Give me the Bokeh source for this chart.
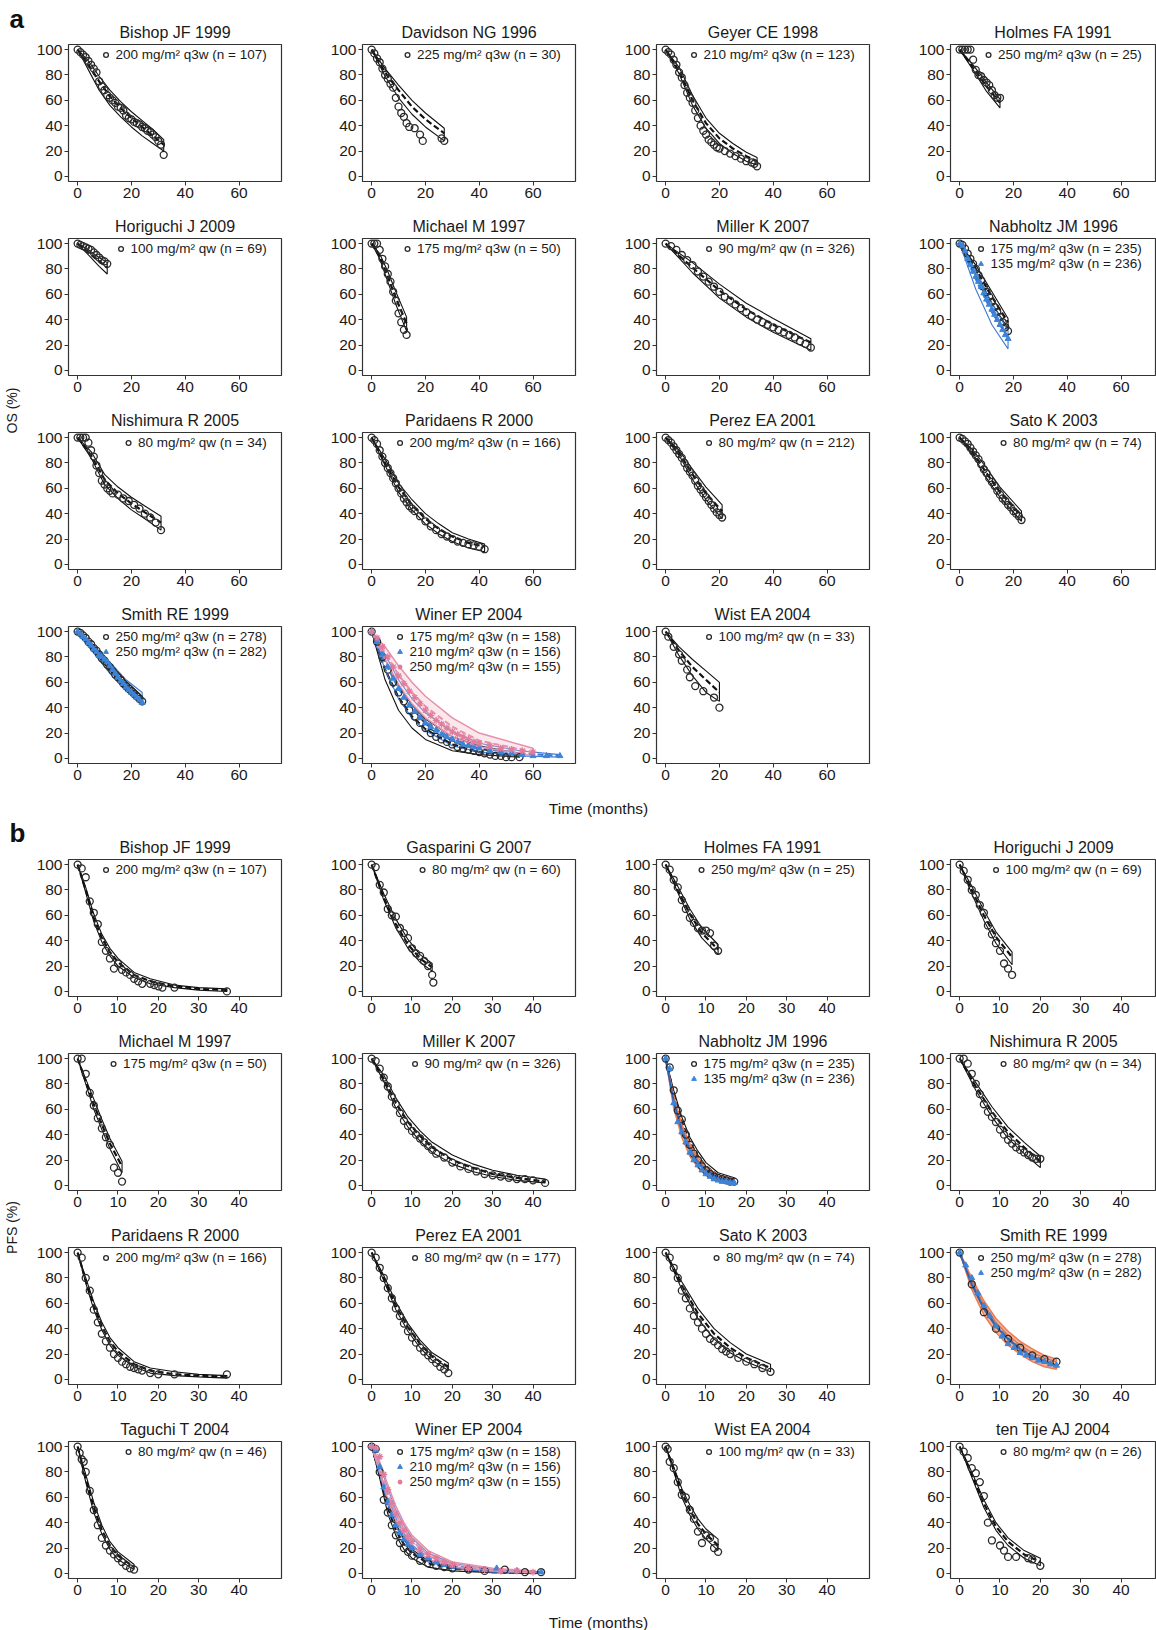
from math import pi
from bokeh.plotting import figure
from bokeh.models import Range1d, FixedTicker, Legend, LegendItem, Spacer
from bokeh.layouts import row, column
from bokeh.core.properties import value
from bokeh.embed import file_html
from bokeh.resources import INLINE

# ------------------------------------------------------------------ data
OS_TICKS = [0, 20, 40, 60]
PFS_TICKS = [0, 10, 20, 30, 40]
Y_TICKS = [0, 20, 40, 60, 80, 100]

# ---- OS (panel a)
os_bishop_t = [0,1,2,3,4,5,6,7,8,9,10,11,12,13,14,15,16,17,18,19,20,21,22,23,24,25,26,27,28,29,30,31,32]
os_bishop_s = [100,98,96,94,91,88,85,82,75,71,68,64,62,60,58,55,54,52,48,46,45,43,42,41,39,38,36,35,33,31,28,25,17]
os_bishop_mt = [0,4,8,12,16,20,24,28,32]
os_bishop_med = [100,88,75,63,54,46,39,32,25]
os_bishop_lo = [100,84,68,56,47,39,32,26,20]
os_bishop_hi = [100,91,79,68,59,51,44,37,29]

os_davidson_t = [0,1,2,3,4,5,6,7,8,9,10,11,12,13,14,16,18,19,26,27]
os_davidson_s = [100,97,93,90,85,80,77,73,70,62,55,50,47,42,39,38,33,28,30,28]
os_davidson_mt = [0,5,10,15,20,27]
os_davidson_med = [100,82,68,55,45,34]
os_davidson_lo = [100,79,62,49,39,28]
os_davidson_hi = [100,85,72,60,50,38]

os_geyer_t = [0,1,2,3,4,5,6,7,8,9,10,11,12,13,14,15,16,17,18,19,20,22,24,26,28,30,32,33,34]
os_geyer_s = [100,98,96,92,88,82,78,72,66,62,58,52,46,40,36,33,29,27,25,23,22,20,18,16,14,12,11,10,8]
os_geyer_mt = [0,5,10,15,20,25,30,34]
os_geyer_med = [100,83,60,42,30,22,16,12]
os_geyer_lo = [100,81,56,38,26,18,12,9]
os_geyer_hi = [100,86,64,46,34,26,19,15]

os_holmes_t = [0,1,2,3,4,5,6,7,8,9,10,11,12,13,14,15]
os_holmes_s = [100,100,100,100,100,92,84,80,79,76,74,72,68,64,62,62]
os_holmes_mt = [0,5,10,15]
os_holmes_med = [100,86,71,58]
os_holmes_lo = [100,84,67,54]
os_holmes_hi = [100,88,74,61]

os_horiguchi_t = [0,1,2,3,4,5,6,7,8,9,10,11]
os_horiguchi_s = [100,99,98,97,96,95,93,91,89,87,86,84]
os_horiguchi_mt = [0,4,8,11]
os_horiguchi_med = [100,93,86,81]
os_horiguchi_lo = [100,91,82,76]
os_horiguchi_hi = [100,95,89,85]

os_michael_t = [0,1,2,3,4,5,6,7,8,9,10,11,12,13]
os_michael_s = [100,100,100,95,88,82,76,70,62,55,45,38,32,28]
os_michael_mt = [0,3,6,9,13]
os_michael_med = [100,90,74,57,37]
os_michael_lo = [100,88,70,52,31]
os_michael_hi = [100,92,78,62,42]

os_miller_t = [0,2,4,6,8,10,12,14,16,18,20,22,24,26,28,30,32,34,36,38,40,42,44,46,48,50,52,54]
os_miller_s = [100,98,95,91,87,83,78,74,70,66,62,58,55,52,49,46,43,40,38,36,34,32,30,28,26,23,21,18]
os_miller_mt = [0,10,20,30,40,54]
os_miller_med = [100,81,63,48,36,22]
os_miller_lo = [100,77,57,42,30,16]
os_miller_hi = [100,85,68,53,41,25]

os_nabholtz1_t = [0,1,2,3,4,5,6,7,8,9,10,11,12,13,14,15,16,17,18]
os_nabholtz1_s = [100,99,96,92,88,84,80,75,71,66,62,58,54,50,46,42,38,34,31]
os_nabholtz1_mt = [0,6,12,18]
os_nabholtz1_med = [100,80,58,38]
os_nabholtz1_lo = [100,76,53,33]
os_nabholtz1_hi = [100,83,62,41]
os_nabholtz2_t = [0,1,2,3,4,5,6,7,8,9,10,11,12,13,14,15,16,17,18]
os_nabholtz2_s = [100,98,94,88,83,78,74,70,66,61,56,52,48,44,40,36,32,28,25]
os_nabholtz2_mt = [0,6,12,18]
os_nabholtz2_med = [100,72,46,26]
os_nabholtz2_lo = [100,64,36,17]
os_nabholtz2_hi = [100,79,53,31]

os_nishimura_t = [0,1,2,3,4,5,6,7,8,9,10,11,12,13,15,17,19,21,23,25,27,29,31]
os_nishimura_s = [100,100,100,100,96,90,85,78,72,66,63,60,58,56,55,52,50,47,44,40,37,33,27]
os_nishimura_mt = [0,5,10,15,20,25,31]
os_nishimura_med = [100,86,67,56,48,41,33]
os_nishimura_lo = [100,84,63,52,43,36,27]
os_nishimura_hi = [100,89,71,61,53,46,38]

os_paridaens_t = [0,1,2,3,4,5,6,7,8,9,10,11,12,13,14,15,16,18,20,22,24,26,28,30,32,34,36,38,40,42]
os_paridaens_s = [100,98,95,90,85,80,76,72,68,64,60,56,52,49,46,44,42,38,34,30,27,24,22,20,18,17,16,15,14,12]
os_paridaens_mt = [0,5,10,15,20,25,30,36,42]
os_paridaens_med = [100,80,61,47,36,28,22,17,14]
os_paridaens_lo = [100,78,57,43,32,24,18,13,10]
os_paridaens_hi = [100,83,64,51,40,32,25,20,16]

os_perez_t = [0,1,2,3,4,5,6,7,8,9,10,11,12,13,14,15,16,17,18,19,20,21]
os_perez_s = [100,98,96,93,90,87,84,80,76,73,70,66,62,59,56,53,50,47,44,41,39,37]
os_perez_mt = [0,5,10,15,21]
os_perez_med = [100,88,71,56,42]
os_perez_lo = [100,86,67,51,36]
os_perez_hi = [100,90,75,61,47]

os_sato_t = [0,1,2,3,4,5,6,7,8,9,10,11,12,13,14,15,16,17,18,19,20,21,22,23]
os_sato_s = [100,99,97,95,92,89,86,83,79,75,72,68,65,62,58,55,52,50,47,45,42,40,38,35]
os_sato_mt = [0,5,10,15,23]
os_sato_med = [100,88,72,57,38]
os_sato_lo = [100,86,68,53,34]
os_sato_hi = [100,90,76,61,42]

os_smith1_t = [0,1,2,3,4,5,6,7,8,9,10,11,12,13,14,15,16,17,18,19,20,21,22,23,24]
os_smith1_s = [100,99,97,95,92,90,87,85,82,79,77,74,72,69,66,64,62,59,57,55,53,51,49,47,45]
os_smith1_mt = [0,6,12,18,24]
os_smith1_med = [100,87,72,58,46]
os_smith1_lo = [100,85,69,55,43]
os_smith1_hi = [100,89,75,61,49]
os_smith2_t = [0,1,2,3,4,5,6,7,8,9,10,11,12,13,14,15,16,17,18,19,20,21,22,23,24]
os_smith2_s = [100,98,96,94,91,89,86,84,81,80,78,76,73,70,67,64,61,59,56,54,52,50,48,46,44]
os_smith2_mt = [0,6,12,18,24]
os_smith2_med = [100,86,71,57,45]
os_smith2_lo = [100,83,67,53,42]
os_smith2_hi = [100,89,76,62,52]

os_winer1_t = [0,2,4,6,8,10,12,14,16,18,20,22,24,26,28,30,32,34,36,38,40,42,44,46,48,50,52,55]
os_winer1_s = [100,92,80,70,60,52,45,38,33,28,24,20,17,15,13,11,9,8,7,6,5,4,3,2,2,1,1,1]
os_winer1_mt = [0,5,10,15,20,30,40,55]
os_winer1_med = [100,70,48,33,23,11,5,2]
os_winer1_lo = [100,62,38,24,15,6,3,1]
os_winer1_hi = [100,78,58,42,31,17,10,4]
os_winer2_t = [0,2,4,6,8,10,12,14,16,18,20,22,24,26,28,30,32,34,36,38,40,44,48,52,56,60,65,70]
os_winer2_s = [100,92,82,72,63,55,48,42,37,32,28,25,22,19,17,15,13,11,10,9,8,6,5,4,3,2,2,2]
os_winer2_mt = [0,5,10,15,20,30,40,55,70]
os_winer2_med = [100,76,55,40,29,15,8,4,2]
os_winer2_lo = [100,70,47,32,22,10,5,2,1]
os_winer2_hi = [100,82,62,47,36,21,12,6,3]
os_winer3_t = [0,2,4,6,8,10,12,14,16,18,20,22,24,26,28,30,32,34,36,38,40,44,48,52,56,60]
os_winer3_s = [100,95,88,80,72,65,59,53,48,43,38,34,30,27,24,21,19,17,15,13,12,10,8,7,6,5]
os_winer3_mt = [0,5,10,15,20,30,40,60]
os_winer3_med = [100,83,66,52,41,25,14,5]
os_winer3_lo = [100,78,58,43,32,17,9,2]
os_winer3_hi = [100,88,73,60,49,32,20,8]

os_wist_t = [0,1,3,5,6,8,9,11,14,18,20]
os_wist_s = [100,96,88,82,77,70,64,57,53,48,40]
os_wist_mt = [0,5,10,15,20]
os_wist_med = [100,85,72,62,52]
os_wist_lo = [100,81,65,52,45]
os_wist_hi = [100,88,78,69,60]

# ---- PFS (panel b)
pfs_bishop_t = [0,1,2,3,4,5,6,7,8,9,10,11,12,13,14,15,16,18,19,20,21,24,37]
pfs_bishop_s = [100,97,90,71,62,53,39,32,26,18,22,17,15,13,10,8,6,6,5,4,3,3,0]
pfs_bishop_mt = [0,2,4,6,8,10,14,18,24,30,37]
pfs_bishop_med = [100,80,58,42,31,23,13,8,4,2,1]
pfs_bishop_lo = [100,78,55,39,28,20,11,6,3,1,0]
pfs_bishop_hi = [100,82,61,45,34,26,15,10,5,3,2]

pfs_gasparini_t = [0,1,2,3,4,5,6,7,8,9,10,11,12,13,14,15,15.3]
pfs_gasparini_s = [100,98,84,78,65,60,59,50,46,42,34,30,28,24,20,13,7]
pfs_gasparini_mt = [0,3,6,9,12,15]
pfs_gasparini_med = [100,74,53,37,26,19]
pfs_gasparini_lo = [100,72,50,34,23,16]
pfs_gasparini_hi = [100,77,57,41,29,22]

pfs_holmes_t = [0,1,2,3,4,5,6,7,8,9,10,11,12,13]
pfs_holmes_s = [100,96,88,82,72,65,58,54,50,48,48,46,36,32]
pfs_holmes_mt = [0,3,6,9,13]
pfs_holmes_med = [100,80,61,46,33]
pfs_holmes_lo = [100,78,57,42,29]
pfs_holmes_hi = [100,83,65,50,37]

pfs_horiguchi_t = [0,1,2,3,4,5,6,7,8,9,10,11,12,13]
pfs_horiguchi_s = [100,95,88,80,76,68,62,52,45,38,32,22,18,13]
pfs_horiguchi_mt = [0,3,6,9,13]
pfs_horiguchi_med = [100,80,60,43,27]
pfs_horiguchi_lo = [100,77,56,38,21]
pfs_horiguchi_hi = [100,83,64,47,31]

pfs_michael_t = [0,1,2,3,4,5,6,7,8,9,10,11]
pfs_michael_s = [100,100,88,73,63,53,45,38,32,14,10,3]
pfs_michael_mt = [0,2,4,6,8,11]
pfs_michael_med = [100,82,64,48,33,15]
pfs_michael_lo = [100,80,60,44,29,10]
pfs_michael_hi = [100,84,68,52,37,19]

pfs_miller_t = [0,1,2,3,4,5,6,7,8,9,10,11,12,13,14,15,16,18,20,22,24,26,28,30,32,34,36,38,40,43]
pfs_miller_s = [100,98,92,85,78,70,64,57,51,47,43,40,37,34,31,28,25,22,18,15,13,11,9,8,7,6,5,5,4,2]
pfs_miller_mt = [0,3,6,9,12,15,20,25,30,36,43]
pfs_miller_med = [100,84,65,50,39,30,20,14,9,6,3]
pfs_miller_lo = [100,82,61,46,35,26,17,11,7,4,2]
pfs_miller_hi = [100,87,69,54,43,34,24,17,12,8,5]

pfs_nabholtz1_t = [0,1,2,3,4,5,6,7,8,9,10,11,12,13,14,15,16,17]
pfs_nabholtz1_s = [100,93,75,59,52,40,32,25,20,15,12,9,7,6,5,4,3,3]
pfs_nabholtz1_mt = [0,2,4,6,8,10,13,17]
pfs_nabholtz1_med = [100,72,50,34,23,15,8,4]
pfs_nabholtz1_lo = [100,69,46,31,20,13,6,2]
pfs_nabholtz1_hi = [100,75,54,38,27,18,10,6]
pfs_nabholtz2_t = [0,1,2,3,4,5,6,7,8,9,10,11,12,13,14,15,16,17]
pfs_nabholtz2_s = [100,92,65,50,42,34,26,20,16,12,9,7,5,4,3,3,2,2]
pfs_nabholtz2_mt = [0,2,4,6,8,10,13,17]
pfs_nabholtz2_med = [100,66,43,28,18,12,6,3]
pfs_nabholtz2_lo = [100,61,38,23,14,8,4,1]
pfs_nabholtz2_hi = [100,71,48,33,22,15,8,5]

pfs_nishimura_t = [0,1,2,3,4,5,6,7,8,9,10,11,12,13,14,15,16,17,18,19,20]
pfs_nishimura_s = [100,100,96,88,80,72,64,58,54,50,44,40,36,33,30,28,26,24,22,21,21]
pfs_nishimura_mt = [0,4,8,12,16,20]
pfs_nishimura_med = [100,78,58,42,30,19]
pfs_nishimura_lo = [100,75,54,37,25,14]
pfs_nishimura_hi = [100,81,62,46,34,23]

pfs_paridaens_t = [0,1,2,3,4,5,6,7,8,9,10,11,12,13,14,15,16,18,20,24,37]
pfs_paridaens_s = [100,96,80,70,55,45,36,30,25,20,17,14,12,10,9,8,7,5,4,4,4]
pfs_paridaens_mt = [0,2,4,6,8,10,14,18,24,30,37]
pfs_paridaens_med = [100,78,58,42,30,22,12,7,4,3,2]
pfs_paridaens_lo = [100,76,55,39,27,19,10,5,3,2,1]
pfs_paridaens_hi = [100,80,61,45,33,25,14,9,6,4,3]

pfs_perez_t = [0,1,2,3,4,5,6,7,8,9,10,11,12,13,14,15,16,17,18,19]
pfs_perez_s = [100,96,88,80,72,64,56,50,44,38,33,29,25,22,19,16,13,10,8,5]
pfs_perez_mt = [0,3,6,9,12,15,19]
pfs_perez_med = [100,80,58,41,28,18,10]
pfs_perez_lo = [100,78,55,38,25,15,7]
pfs_perez_hi = [100,82,61,44,31,21,13]

pfs_sato_t = [0,1,2,3,4,5,6,7,8,9,10,11,12,13,14,15,16,18,20,22,24,26]
pfs_sato_s = [100,96,88,80,70,64,56,50,45,40,36,32,30,27,24,22,20,17,14,12,9,6]
pfs_sato_mt = [0,4,8,12,16,20,26]
pfs_sato_med = [100,74,52,36,25,17,9]
pfs_sato_lo = [100,71,48,32,21,14,6]
pfs_sato_hi = [100,77,56,40,29,20,12]

pfs_smith1_t = [0,3,6,9,12,15,18,21,24]
pfs_smith1_s = [100,75,53,40,32,25,19,16,14]
pfs_smith1_mt = [0,3,6,9,12,15,18,21,24]
pfs_smith1_med = [100,76,57,43,33,25,19,15,12]
pfs_smith1_lo = [100,74,55,41,31,23,17,13,10]
pfs_smith1_hi = [100,78,59,45,35,27,21,17,14]
pfs_smith2_t = [0,1.5,3,4.5,6,7.5,9,10.5,12,13.5,15,16.5,18,19.5,21,22.5,24]
pfs_smith2_s = [100,90,80,68,58,50,42,34,28,25,21,19,17,15,14,12,11]
pfs_smith2_mt = [0,3,6,9,12,15,18,21,24]
pfs_smith2_med = [100,75,56,42,32,24,18,14,11]
pfs_smith2_lo = [100,71,51,37,27,20,14,10,8]
pfs_smith2_hi = [100,80,62,48,38,30,24,19,16]

pfs_taguchi_t = [0,0.5,1,1.5,2,3,4,5,6,7,8,9,10,11,12,13,14]
pfs_taguchi_s = [100,95,90,88,80,65,50,38,28,22,18,15,12,9,6,4,3]
pfs_taguchi_mt = [0,2,4,6,8,10,14]
pfs_taguchi_med = [100,75,52,34,22,14,5]
pfs_taguchi_lo = [100,72,48,31,19,11,3]
pfs_taguchi_hi = [100,78,56,38,25,17,7]

pfs_winer1_t = [0,1,2,3,4,5,6,7,8,9,10,12,14,16,18,20,24,28,33,38,42]
pfs_winer1_s = [100,98,80,58,48,38,30,24,20,17,14,10,8,6,5,4,3,2,3,1,1]
pfs_winer1_mt = [0,2,4,6,8,10,14,20,30,42]
pfs_winer1_med = [100,78,52,34,23,16,8,4,1,0.5]
pfs_winer1_lo = [100,75,47,30,19,12,5,2,0.5,0]
pfs_winer1_hi = [100,81,57,39,27,19,10,5,2,1]
pfs_winer2_t = [0,1,2,3,4,5,6,7,8,9,10,12,14,16,18,20,24,28,31,36,42]
pfs_winer2_s = [100,97,84,68,56,46,38,32,27,23,20,15,12,9,7,6,4,3,4,2,1]
pfs_winer2_mt = [0,2,4,6,8,10,14,20,30,42]
pfs_winer2_med = [100,82,60,43,31,22,12,6,2,1]
pfs_winer2_lo = [100,78,54,37,26,18,9,4,1,0.5]
pfs_winer2_hi = [100,86,67,50,38,28,16,8,3,1]
pfs_winer3_t = [0,1,2,3,4,5,6,7,8,9,10,12,14,16,18,20,24,28,32,36,40]
pfs_winer3_s = [100,99,92,78,66,55,47,40,34,29,25,19,15,12,9,7,4,3,2,2,1]
pfs_winer3_mt = [0,2,4,6,8,10,14,20,30,40]
pfs_winer3_med = [100,84,64,47,35,26,14,7,3,1]
pfs_winer3_lo = [100,80,58,42,30,21,11,5,2,0.5]
pfs_winer3_hi = [100,88,70,53,40,30,18,9,4,2]

pfs_wist_t = [0,0.5,1,2,3,4,5,6,7,8,9,10,11,12,13]
pfs_wist_s = [100,98,88,83,72,62,60,50,43,33,24,30,28,20,17]
pfs_wist_mt = [0,2,4,6,8,10,13]
pfs_wist_med = [100,82,64,50,39,31,22]
pfs_wist_lo = [100,80,60,46,35,27,18]
pfs_wist_hi = [100,84,67,54,43,35,27]

pfs_tentije_t = [0,1,2,3,4,5,6,7,8,10,11,12,14,17,18,20]
pfs_tentije_s = [100,96,91,83,79,72,61,40,26,22,18,13,13,12,11,6]
pfs_tentije_mt = [0,3,6,9,12,16,20]
pfs_tentije_med = [100,78,55,37,25,15,9]
pfs_tentije_lo = [100,76,52,34,22,12,6]
pfs_tentije_hi = [100,80,58,40,28,18,12]

# ------------------------------------------------------------------ styles / layout
FONT = "Liberation Sans"
W_COL, W_LAST, H_ROW = 294, 244, 194
B_LEFT, B_TOP, B_BOT = 38, 33, 24
FW, FW_LAST = 213, 206
OS_X = (-3.4, 75.8)
PFS_X = (-2.27, 50.53)
SIDE_W = 30

ARM_STYLE = {
    1: dict(marker="circle", size=7, fill=None, mcol="#2a2a2a", lcol="#111111", band=None, alpha=0),
    2: dict(marker="triangle", size=6, fill="#3d84d8", mcol="#3d84d8", lcol="#3b7bd4", band=None, alpha=0),
    3: dict(marker="asterisk", size=7, fill=None, mcol="#e07b9b", lcol="#e690ab", band="#f0b3c5", alpha=0.3),
    4: dict(marker="triangle", size=6, fill="#3d84d8", mcol="#3d84d8", lcol="#2e64b8", band="#f49a76", alpha=0.75),
}


def arm(t, s, mt, med, lo, hi, label, style=1):
    return dict(t=t, s=s, mt=mt, med=med, lo=lo, hi=hi, label=label, style=style)


def make_panel(title, arms, xr, ticks, col):
    last = col == 3
    w = W_LAST if last else W_COL
    fw = FW_LAST if last else FW
    x0, x1 = xr
    x1 = x0 + (x1 - x0) * fw / FW
    p = figure(width=w, height=H_ROW, x_range=Range1d(x0, x1), y_range=Range1d(-4, 104),
               toolbar_location=None, output_backend="svg", title=title,
               min_border_left=B_LEFT, min_border_right=w - B_LEFT - fw,
               min_border_top=B_TOP, min_border_bottom=B_BOT)
    p.title.text_font = FONT
    p.title.text_font_size = "16px"
    p.title.text_font_style = "normal"
    p.title.text_color = "#1a1a1a"
    p.title.align = "center"
    p.title.standoff = 7
    p.xgrid.visible = False
    p.ygrid.visible = False
    p.outline_line_color = "#333333"
    p.outline_line_width = 1.2
    p.xaxis.ticker = FixedTicker(ticks=ticks)
    p.yaxis.ticker = FixedTicker(ticks=Y_TICKS)
    for ax in (p.xaxis, p.yaxis):
        ax.axis_line_color = None
        ax.major_tick_line_color = "#333333"
        ax.major_tick_out = 4
        ax.major_tick_in = 0
        ax.minor_tick_line_color = None
        ax.major_label_text_font = FONT
        ax.major_label_text_font_size = "15.5px"
        ax.major_label_text_color = "#1a1a1a"
        ax.major_label_standoff = 2

    items = []
    for a in arms:
        st = ARM_STYLE[a["style"]]
        px = list(a["mt"]) + list(a["mt"])[::-1]
        py = list(a["lo"]) + list(a["hi"])[::-1]
        if st["band"]:
            p.patch(px, py, fill_color=st["band"], fill_alpha=st["alpha"],
                    line_color=st["lcol"] if a["style"] == 3 else "#ee7b52", line_width=1.5)
            if a["style"] == 4:
                p.line(a["mt"], a["med"], line_color=st["lcol"], line_width=2)
            else:
                p.line(a["mt"], a["med"], line_color=st["lcol"], line_width=2, line_dash="6 3")
        else:
            p.patch(px, py, fill_alpha=0, line_color=st["lcol"], line_width=1.1)
            p.line(a["mt"], a["med"], line_color=st["lcol"], line_width=2.2, line_dash="6 3")
    for a in arms:
        st = ARM_STYLE[a["style"]]
        if st["fill"] is None:
            r = p.scatter(a["t"], a["s"], marker=st["marker"], size=st["size"],
                          fill_color=None, line_color=st["mcol"], line_width=1.3)
        else:
            r = p.scatter(a["t"], a["s"], marker=st["marker"], size=st["size"],
                          fill_color=st["fill"], line_color=st["mcol"], line_width=1)
        items.append(LegendItem(label=a["label"] + "   ", renderers=[r]))

    leg = Legend(items=items, location="top_right", margin=3, padding=0, spacing=0,
                 glyph_width=12, glyph_height=15, label_height=15, label_standoff=4,
                 label_text_font=FONT, label_text_font_size="13.5px",
                 label_text_color="#1a1a1a", border_line_alpha=0,
                 background_fill_alpha=0)
    p.add_layout(leg)
    return p


def L(dose, sched, n):
    return f"{dose} mg/m\u00b2 {sched} (n = {n})"


os_panels = [
    ("Bishop JF 1999", [arm(os_bishop_t, os_bishop_s, os_bishop_mt, os_bishop_med, os_bishop_lo, os_bishop_hi, L(200, "q3w", 107))]),
    ("Davidson NG 1996", [arm(os_davidson_t, os_davidson_s, os_davidson_mt, os_davidson_med, os_davidson_lo, os_davidson_hi, L(225, "q3w", 30))]),
    ("Geyer CE 1998", [arm(os_geyer_t, os_geyer_s, os_geyer_mt, os_geyer_med, os_geyer_lo, os_geyer_hi, L(210, "q3w", 123))]),
    ("Holmes FA 1991", [arm(os_holmes_t, os_holmes_s, os_holmes_mt, os_holmes_med, os_holmes_lo, os_holmes_hi, L(250, "q3w", 25))]),
    ("Horiguchi J 2009", [arm(os_horiguchi_t, os_horiguchi_s, os_horiguchi_mt, os_horiguchi_med, os_horiguchi_lo, os_horiguchi_hi, L(100, "qw", 69))]),
    ("Michael M 1997", [arm(os_michael_t, os_michael_s, os_michael_mt, os_michael_med, os_michael_lo, os_michael_hi, L(175, "q3w", 50))]),
    ("Miller K 2007", [arm(os_miller_t, os_miller_s, os_miller_mt, os_miller_med, os_miller_lo, os_miller_hi, L(90, "qw", 326))]),
    ("Nabholtz JM 1996", [arm(os_nabholtz1_t, os_nabholtz1_s, os_nabholtz1_mt, os_nabholtz1_med, os_nabholtz1_lo, os_nabholtz1_hi, L(175, "q3w", 235)),
                          arm(os_nabholtz2_t, os_nabholtz2_s, os_nabholtz2_mt, os_nabholtz2_med, os_nabholtz2_lo, os_nabholtz2_hi, L(135, "q3w", 236), 2)]),
    ("Nishimura R 2005", [arm(os_nishimura_t, os_nishimura_s, os_nishimura_mt, os_nishimura_med, os_nishimura_lo, os_nishimura_hi, L(80, "qw", 34))]),
    ("Paridaens R 2000", [arm(os_paridaens_t, os_paridaens_s, os_paridaens_mt, os_paridaens_med, os_paridaens_lo, os_paridaens_hi, L(200, "q3w", 166))]),
    ("Perez EA 2001", [arm(os_perez_t, os_perez_s, os_perez_mt, os_perez_med, os_perez_lo, os_perez_hi, L(80, "qw", 212))]),
    ("Sato K 2003", [arm(os_sato_t, os_sato_s, os_sato_mt, os_sato_med, os_sato_lo, os_sato_hi, L(80, "qw", 74))]),
    ("Smith RE 1999", [arm(os_smith1_t, os_smith1_s, os_smith1_mt, os_smith1_med, os_smith1_lo, os_smith1_hi, L(250, "q3w", 278)),
                       arm(os_smith2_t, os_smith2_s, os_smith2_mt, os_smith2_med, os_smith2_lo, os_smith2_hi, L(250, "q3w", 282), 2)]),
    ("Winer EP 2004", [arm(os_winer1_t, os_winer1_s, os_winer1_mt, os_winer1_med, os_winer1_lo, os_winer1_hi, L(175, "q3w", 158)),
                       arm(os_winer2_t, os_winer2_s, os_winer2_mt, os_winer2_med, os_winer2_lo, os_winer2_hi, L(210, "q3w", 156), 2),
                       arm(os_winer3_t, os_winer3_s, os_winer3_mt, os_winer3_med, os_winer3_lo, os_winer3_hi, L(250, "q3w", 155), 3)]),
    ("Wist EA 2004", [arm(os_wist_t, os_wist_s, os_wist_mt, os_wist_med, os_wist_lo, os_wist_hi, L(100, "qw", 33))]),
]

pfs_panels = [
    ("Bishop JF 1999", [arm(pfs_bishop_t, pfs_bishop_s, pfs_bishop_mt, pfs_bishop_med, pfs_bishop_lo, pfs_bishop_hi, L(200, "q3w", 107))]),
    ("Gasparini G 2007", [arm(pfs_gasparini_t, pfs_gasparini_s, pfs_gasparini_mt, pfs_gasparini_med, pfs_gasparini_lo, pfs_gasparini_hi, L(80, "qw", 60))]),
    ("Holmes FA 1991", [arm(pfs_holmes_t, pfs_holmes_s, pfs_holmes_mt, pfs_holmes_med, pfs_holmes_lo, pfs_holmes_hi, L(250, "q3w", 25))]),
    ("Horiguchi J 2009", [arm(pfs_horiguchi_t, pfs_horiguchi_s, pfs_horiguchi_mt, pfs_horiguchi_med, pfs_horiguchi_lo, pfs_horiguchi_hi, L(100, "qw", 69))]),
    ("Michael M 1997", [arm(pfs_michael_t, pfs_michael_s, pfs_michael_mt, pfs_michael_med, pfs_michael_lo, pfs_michael_hi, L(175, "q3w", 50))]),
    ("Miller K 2007", [arm(pfs_miller_t, pfs_miller_s, pfs_miller_mt, pfs_miller_med, pfs_miller_lo, pfs_miller_hi, L(90, "qw", 326))]),
    ("Nabholtz JM 1996", [arm(pfs_nabholtz1_t, pfs_nabholtz1_s, pfs_nabholtz1_mt, pfs_nabholtz1_med, pfs_nabholtz1_lo, pfs_nabholtz1_hi, L(175, "q3w", 235)),
                          arm(pfs_nabholtz2_t, pfs_nabholtz2_s, pfs_nabholtz2_mt, pfs_nabholtz2_med, pfs_nabholtz2_lo, pfs_nabholtz2_hi, L(135, "q3w", 236), 4)]),
    ("Nishimura R 2005", [arm(pfs_nishimura_t, pfs_nishimura_s, pfs_nishimura_mt, pfs_nishimura_med, pfs_nishimura_lo, pfs_nishimura_hi, L(80, "qw", 34))]),
    ("Paridaens R 2000", [arm(pfs_paridaens_t, pfs_paridaens_s, pfs_paridaens_mt, pfs_paridaens_med, pfs_paridaens_lo, pfs_paridaens_hi, L(200, "q3w", 166))]),
    ("Perez EA 2001", [arm(pfs_perez_t, pfs_perez_s, pfs_perez_mt, pfs_perez_med, pfs_perez_lo, pfs_perez_hi, L(80, "qw", 177))]),
    ("Sato K 2003", [arm(pfs_sato_t, pfs_sato_s, pfs_sato_mt, pfs_sato_med, pfs_sato_lo, pfs_sato_hi, L(80, "qw", 74))]),
    ("Smith RE 1999", [arm(pfs_smith1_t, pfs_smith1_s, pfs_smith1_mt, pfs_smith1_med, pfs_smith1_lo, pfs_smith1_hi, L(250, "q3w", 278)),
                       arm(pfs_smith2_t, pfs_smith2_s, pfs_smith2_mt, pfs_smith2_med, pfs_smith2_lo, pfs_smith2_hi, L(250, "q3w", 282), 4)]),
    ("Taguchi T 2004", [arm(pfs_taguchi_t, pfs_taguchi_s, pfs_taguchi_mt, pfs_taguchi_med, pfs_taguchi_lo, pfs_taguchi_hi, L(80, "qw", 46))]),
    ("Winer EP 2004", [arm(pfs_winer1_t, pfs_winer1_s, pfs_winer1_mt, pfs_winer1_med, pfs_winer1_lo, pfs_winer1_hi, L(175, "q3w", 158)),
                       arm(pfs_winer2_t, pfs_winer2_s, pfs_winer2_mt, pfs_winer2_med, pfs_winer2_lo, pfs_winer2_hi, L(210, "q3w", 156), 2),
                       arm(pfs_winer3_t, pfs_winer3_s, pfs_winer3_mt, pfs_winer3_med, pfs_winer3_lo, pfs_winer3_hi, L(250, "q3w", 155), 3)]),
    ("Wist EA 2004", [arm(pfs_wist_t, pfs_wist_s, pfs_wist_mt, pfs_wist_med, pfs_wist_lo, pfs_wist_hi, L(100, "qw", 33))]),
    ("ten Tije AJ 2004", [arm(pfs_tentije_t, pfs_tentije_s, pfs_tentije_mt, pfs_tentije_med, pfs_tentije_lo, pfs_tentije_hi, L(80, "qw", 26))]),
]


def build_grid(panels, xr, ticks):
    rows = []
    for r in range(4):
        kids = []
        for c in range(4):
            i = r * 4 + c
            if i < len(panels):
                title, arms = panels[i]
                kids.append(make_panel(title, arms, xr, ticks, c))
            else:
                kids.append(Spacer(width=W_LAST if c == 3 else W_COL, height=H_ROW))
        rows.append(row(kids, spacing=0))
    return rows


def text_fig(w, h):
    f = figure(width=w, height=h, x_range=Range1d(0, w), y_range=Range1d(h, 0),
               toolbar_location=None, output_backend="svg", title=None,
               x_axis_type=None, y_axis_type=None, min_border=0,
               outline_line_color=None)
    f.xgrid.visible = False
    f.ygrid.visible = False
    return f


TOTAL_H = 1630
GRID_W = 3 * W_COL + W_LAST
TOP_PAD = 11
XLAB_A_H = 39
XLAB_B_H = TOTAL_H - TOP_PAD - 8 * H_ROW - XLAB_A_H

side = text_fig(SIDE_W, TOTAL_H)
side.text(x=[9, 9], y=[18, 832], text=["a", "b"], text_font=value(FONT),
          text_font_style="bold", text_font_size="26px", text_baseline="middle",
          text_align="left", text_color="#111111")
side.text(x=[11, 11], y=[410, 1227], text=["OS (%)", "PFS (%)"], angle=pi / 2,
          text_font=value(FONT), text_font_size="14px", text_baseline="middle",
          text_align="center", text_color="#1a1a1a")

xlab_a = text_fig(GRID_W, XLAB_A_H)
xlab_a.text(x=[568], y=[21], text=["Time (months)"], text_font=value(FONT),
            text_font_size="15.5px", text_baseline="middle", text_align="center",
            text_color="#1a1a1a")
xlab_b = text_fig(GRID_W, XLAB_B_H)
xlab_b.text(x=[568], y=[20], text=["Time (months)"], text_font=value(FONT),
            text_font_size="15.5px", text_baseline="middle", text_align="center",
            text_color="#1a1a1a")

main_col = column([Spacer(width=GRID_W, height=TOP_PAD)]
                  + build_grid(os_panels, OS_X, OS_TICKS)
                  + [xlab_a]
                  + build_grid(pfs_panels, PFS_X, PFS_TICKS)
                  + [xlab_b], spacing=0)

root = row([side, main_col], spacing=0)

open("out.html", "w").write(file_html(root, INLINE))
